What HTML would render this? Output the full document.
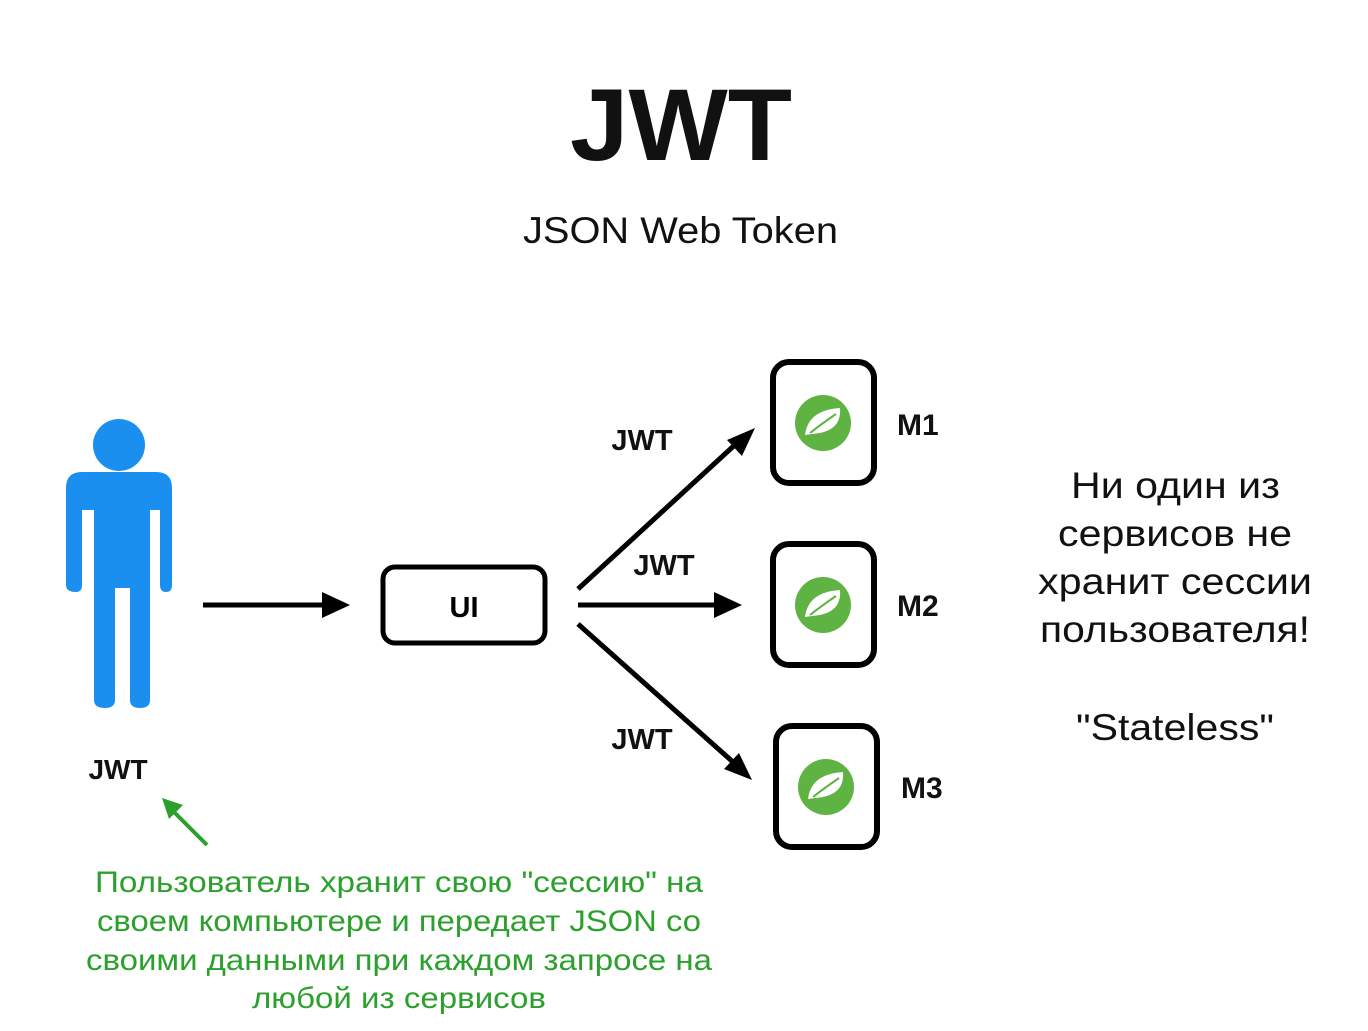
<!DOCTYPE html>
<html><head><meta charset="utf-8"><style>
html,body{margin:0;padding:0;background:#fff;}
svg{display:block;font-family:"Liberation Sans",Arial,sans-serif;}
</style></head><body>
<svg width="1368" height="1031" viewBox="0 0 1368 1031" xmlns="http://www.w3.org/2000/svg">
<text x="570" y="160" textLength="222" lengthAdjust="spacingAndGlyphs" font-size="102" font-weight="bold" fill="#111">JWT</text>
<text x="523" y="243" textLength="315" lengthAdjust="spacingAndGlyphs" font-size="37" fill="#111">JSON Web Token</text>

<!-- person -->
<g fill="#1a8ff0">
<circle cx="119" cy="445" r="26"/>
<path d="M82,472 H156 Q172,472 172,488 V585 Q172,592 166,592 Q160,592 160,585 V510 H150 V700 Q150,708 140,708 Q130,708 130,700 V588 H115 V700 Q115,708 105,708 Q94,708 94,700 V510 H82 V585 Q82,592 76,592 Q66,592 66,585 V488 Q66,472 82,472 Z"/>
</g>
<text x="118" y="779" text-anchor="middle" font-size="28" font-weight="bold" fill="#111">JWT</text>
<line x1="207" y1="845" x2="170" y2="808" stroke="#2ca02c" stroke-width="4"/>
<path d="M162,798 L183,805 L169,819 Z" fill="#2ca02c"/>

<line x1="203" y1="605" x2="330" y2="605" stroke="#000" stroke-width="5"/>
<path d="M322,592 L350,605 L322,618 Z" fill="#000"/>
<rect x="383" y="567" width="162" height="76" rx="12" fill="#fff" stroke="#000" stroke-width="5"/>
<text x="464" y="617" text-anchor="middle" font-size="29" font-weight="bold">UI</text>

<g stroke="#000" stroke-width="5">
<line x1="578" y1="589" x2="738" y2="442"/>
<line x1="578" y1="605" x2="720" y2="605"/>
<line x1="578" y1="624" x2="733" y2="762"/>
</g>
<path d="M755,428 L742,456 L727,440 Z" fill="#000"/>
<path d="M742,605 L714,592 L714,618 Z" fill="#000"/>
<path d="M752,780 L724,769 L739,753 Z" fill="#000"/>
<g font-size="29" font-weight="bold" fill="#111" text-anchor="middle">
<text x="642" y="450">JWT</text>
<text x="664" y="575">JWT</text>
<text x="642" y="749">JWT</text>
</g>

<g id="svc">
<rect x="773" y="362" width="101" height="121" rx="16" fill="#fff" stroke="#000" stroke-width="6"/>
<circle cx="823" cy="423" r="28" fill="#5fb343"/>
<path d="M805,435 Q808,410 840,408 Q842,432 812,434 Z" fill="#fff"/>
<path d="M810,433 Q820,425 836,414" stroke="#5fb343" stroke-width="2" fill="none"/>
</g>
<use href="#svc" y="182"/>
<use href="#svc" x="3" y="364"/>
<g font-size="30" font-weight="bold" fill="#111">
<text x="897" y="435">M1</text>
<text x="897" y="616">M2</text>
<text x="901" y="798">M3</text>
</g>

<g font-size="37" fill="#111" lengthAdjust="spacingAndGlyphs">
<text x="1071" y="498" textLength="209" lengthAdjust="spacingAndGlyphs">Ни один из</text>
<text x="1058" y="546" textLength="234" lengthAdjust="spacingAndGlyphs">сервисов не</text>
<text x="1038" y="594" textLength="274" lengthAdjust="spacingAndGlyphs">хранит сессии</text>
<text x="1040" y="642" textLength="270" lengthAdjust="spacingAndGlyphs">пользователя!</text>
<text x="1076" y="740" textLength="198" lengthAdjust="spacingAndGlyphs">"Stateless"</text>
</g>

<g font-size="30" fill="#2ca02c">
<text x="95" y="892" textLength="608" lengthAdjust="spacingAndGlyphs">Пользователь хранит свою "сессию" на</text>
<text x="97" y="931" textLength="604" lengthAdjust="spacingAndGlyphs">своем компьютере и передает JSON со</text>
<text x="86" y="970" textLength="626" lengthAdjust="spacingAndGlyphs">своими данными при каждом запросе на</text>
<text x="252" y="1008" textLength="294" lengthAdjust="spacingAndGlyphs">любой из сервисов</text>
</g>
</svg>
</body></html>
